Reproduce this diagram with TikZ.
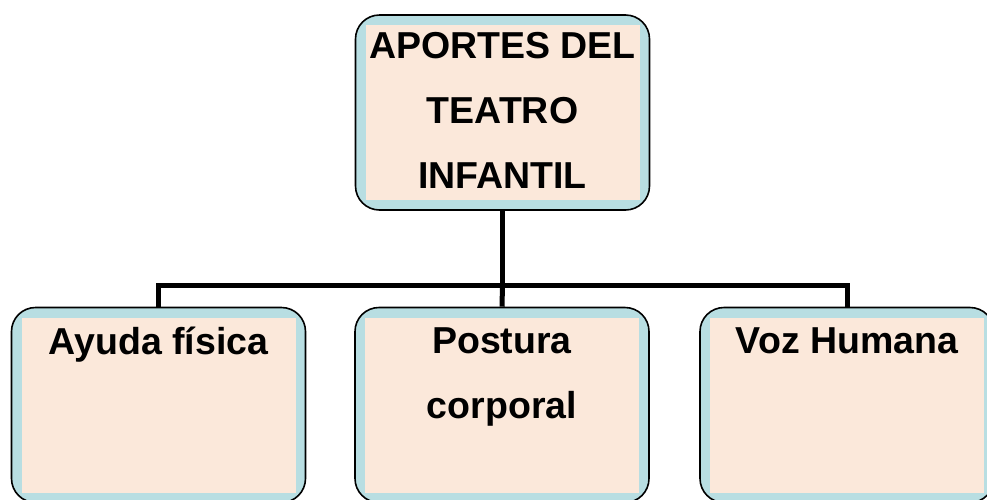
\documentclass[tikz,border=0pt]{standalone}
\usepackage{fontspec}
\setmainfont{Liberation Sans}
\usepackage{xcolor}
\usetikzlibrary{positioning}

\definecolor{bandblue}{HTML}{B8DEE2}
\definecolor{peach}{HTML}{FBE8DA}

\begin{document}
\begin{tikzpicture}[
    x=1pt, y=-1pt,
    box/.style={rectangle, draw=black, line width=1.6pt, rounded corners=24pt, fill=bandblue, minimum width=294pt, minimum height=195pt, inner sep=0pt,
        path picture={\fill[peach, sharp corners] ([shift={(10pt,10pt)}]path picture bounding box.south west) rectangle ([shift={(-10pt,-10pt)}]path picture bounding box.north east);}},
    boxtext/.style={font=\fontsize{37.5}{65}\selectfont\bfseries, align=center, inner sep=0pt},
    conn/.style={line width=5pt, black},
]
    \useasboundingbox (0,0) rectangle (987,499);

    % Root box
    \node[box, boxtext] (root) at (502.5,112.5) {};
    \node[boxtext] (rootT) at (502.5,110) {APORTES DEL\\TEATRO\\INFANTIL};

    % Child boxes (bottom row)
    \node[box] (fisica) at (158.5,405) {};
    \node[box] (postura) at (502,405) {};
    \node[box] (voz) at (847,405) {};

    % Child labels, set at the top of each box
    \node[boxtext, anchor=north] (fisicaT) at (158.5,327) {Ayuda física};
    \node[boxtext, anchor=north] (posturaT) at (502,327) {Postura\\corporal};
    \node[boxtext, anchor=north] (vozT) at (847,327) {Voz Humana};

    % Connectors
    \coordinate (bus) at (502.5,285);
    \draw[conn] (root.south) -- (bus);
    \draw[conn] (fisica.north) |- (bus) -| (voz.north);
    \draw[conn] (bus) -- (postura.north);
\end{tikzpicture}
\end{document}
